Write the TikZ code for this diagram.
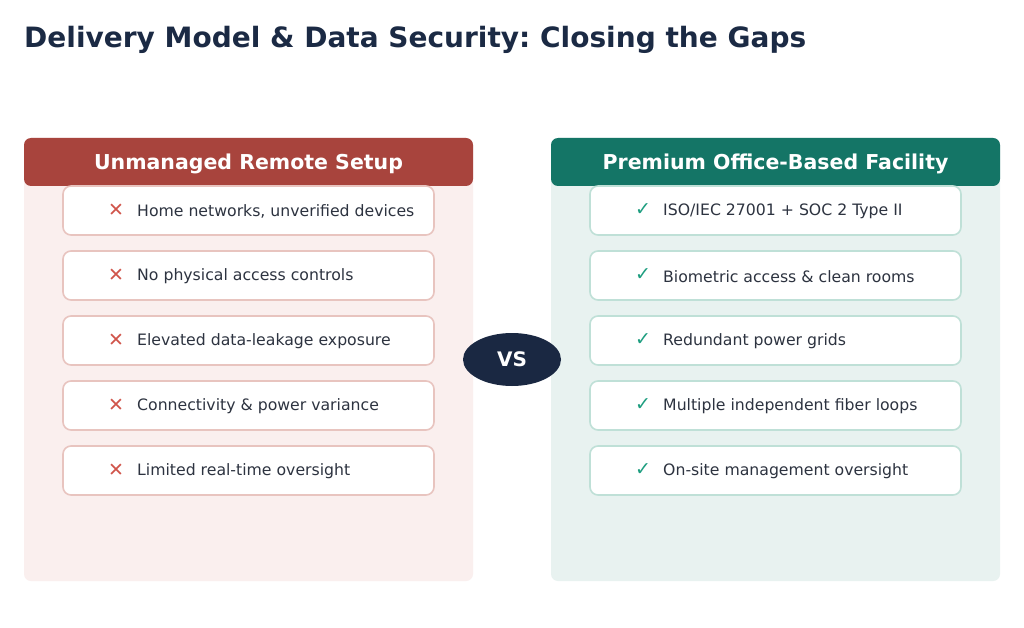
\documentclass[tikz,border=0pt]{standalone}
\usepackage{fontspec}
\usetikzlibrary{shapes.geometric}
\setmainfont{DejaVu Sans}
\frenchspacing
\definecolor{titlec}{HTML}{1B2A44}
\definecolor{redh}{HTML}{A8443D}
\definecolor{redbg}{HTML}{FAEFEE}
\definecolor{redbd}{HTML}{E8C4BF}
\definecolor{redx}{HTML}{D0544A}
\definecolor{teah}{HTML}{147566}
\definecolor{teabg}{HTML}{E8F2F0}
\definecolor{teabd}{HTML}{BFE0D7}
\definecolor{teack}{HTML}{1E9E80}
\definecolor{txt}{HTML}{2D3340}
\definecolor{vsc}{HTML}{1A2842}
\tikzset{
  panel/.style={rounded corners=7pt, inner sep=0pt, outer sep=0pt},
  itembox/.style={draw, line width=1.6pt, fill=white, rounded corners=8pt, minimum width=371pt, minimum height=49pt, inner sep=0pt},
  itemtxt/.style={anchor=west, text=txt, font=\fontsize{15.7}{18}\selectfont, inner sep=0pt},
  hdrtxt/.style={text=white, font=\bfseries\fontsize{20.5}{24}\selectfont, inner sep=0pt},
  marktxt/.style={font=\fontsize{19}{22}\selectfont, inner sep=0pt},
}
\begin{document}
\begin{tikzpicture}[x=1pt,y=-1pt]
\useasboundingbox (0,0) rectangle (1024,628);
\fill[white] (0,0) rectangle (1024,628);
\node[anchor=base west, text=titlec, font=\bfseries\fontsize{28}{32}\selectfont, inner sep=0pt] (title) at (24,47.5) {Delivery Model \& Data Security: Closing the Gaps};
% left panel
\fill[redbg, panel] (24,138) rectangle (473,581);
\fill[redh, panel] (24,138) rectangle (473,186);
\node[hdrtxt] (lh) at (248.5,163.5) {Unmanaged Remote Setup};
% right panel
\fill[teabg, panel] (551,138) rectangle (1000,581);
\fill[teah, panel] (551,138) rectangle (1000,186);
\node[hdrtxt] (rh) at (775.5,163.5) {Premium Office-Based Facility};
% items
\foreach \i/\t in {0/{Home networks, unverified devices},1/{No physical access controls},2/{Elevated data-leakage exposure},3/{Connectivity \& power variance},4/{Limited real-time oversight}}{
  \node[itembox, draw=redbd] (l\i) at (248.5,{210.5+65*\i}) {};
  \node[marktxt, text=redx] (lx\i) at (116,{210+65*\i}) {✕};
  \node[itemtxt] (lt\i) at (137,{211.5+65*\i}) {\t};
}
\foreach \i/\t in {0/{ISO/IEC 27001 + SOC 2 Type II},1/{Biometric access \& clean rooms},2/{Redundant power grids},3/{Multiple independent fiber loops},4/{On-site management oversight}}{
  \node[itembox, draw=teabd] (r\i) at (775.5,{210.5+65*\i}) {};
  \node[marktxt, text=teack] (rx\i) at (643,{210+65*\i}) {✓};
  \node[itemtxt] (rt\i) at (663,{211.5+65*\i}) {\t};
}
\node[ellipse, fill=vsc, minimum width=98pt, minimum height=53pt, inner sep=0pt, text=white, font=\bfseries\fontsize{20}{23}\selectfont] (vs) at (512,359.5) {VS};
\end{tikzpicture}
\end{document}
